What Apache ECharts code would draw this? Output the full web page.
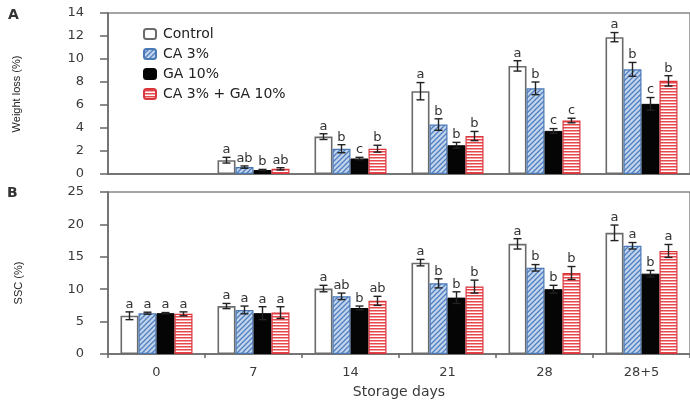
<!DOCTYPE html>
<html>
<head>
<meta charset="utf-8">
<script src="https://cdn.jsdelivr.net/npm/echarts@6/dist/echarts.min.js"></script>
<style>
html,body{margin:0;padding:0;background:#fff;}
#chart{width:690px;height:403px;}
</style>
</head>
<body>
<div id="chart"></div>
<script>
// ---- Data ----
const categories = ['0', '7', '14', '21', '28', '28+5'];
const seriesNames = ['Control', 'CA 3%', 'GA 10%', 'CA 3% + GA 10%'];

// Panel A: Weight loss (%)  (no bars drawn at day 0)
const wlControl = [null, 1.2, 3.25, 7.2, 9.4, 11.9];
const wlCA      = [null, 0.6, 2.2, 4.3, 7.45, 9.1];
const wlGA      = [null, 0.35, 1.35, 2.5, 3.75, 6.1];
const wlCAGA    = [null, 0.45, 2.2, 3.3, 4.65, 8.1];
const wlControlErr = [0, 0.25, 0.25, 0.75, 0.45, 0.4];
const wlCAErr      = [0, 0.1, 0.35, 0.5, 0.55, 0.6];
const wlGAErr      = [0, 0.05, 0.1, 0.25, 0.2, 0.55];
const wlCAGAErr    = [0, 0.1, 0.3, 0.4, 0.2, 0.45];
const wlControlSig = ['', 'a', 'a', 'a', 'a', 'a'];
const wlCASig      = ['', 'ab', 'b', 'b', 'b', 'b'];
const wlGASig      = ['', 'b', 'c', 'b', 'c', 'c'];
const wlCAGASig    = ['', 'ab', 'b', 'b', 'c', 'b'];

// Panel B: SSC (%)
const sscControl = [5.9, 7.4, 10.1, 14.1, 17.0, 18.7];
const sscCA      = [6.3, 6.8, 8.9, 10.9, 13.3, 16.7];
const sscGA      = [6.3, 6.3, 7.1, 8.7, 10.0, 12.4];
const sscCAGA    = [6.2, 6.4, 8.2, 10.4, 12.5, 15.9];
const sscControlErr = [0.6, 0.4, 0.5, 0.5, 0.8, 1.2];
const sscCAErr      = [0.15, 0.6, 0.5, 0.7, 0.5, 0.5];
const sscGAErr      = [0.1, 1.0, 0.3, 0.9, 0.6, 0.5];
const sscCAGAErr    = [0.3, 0.9, 0.7, 1.0, 1.0, 1.0];
const sscControlSig = ['a', 'a', 'a', 'a', 'a', 'a'];
const sscCASig      = ['a', 'a', 'ab', 'b', 'b', 'a'];
const sscGASig      = ['a', 'a', 'b', 'b', 'b', 'b'];
const sscCAGASig    = ['a', 'a', 'ab', 'b', 'b', 'a'];

// ---- Styles ----
const BAR_W = 18;
const FONT = 'DejaVu Sans';

function makeCanvas(w, h, draw) {
  const c = document.createElement('canvas');
  c.width = w; c.height = h;
  draw(c.getContext('2d'));
  return c;
}
const bluePattern = makeCanvas(5, 5, function (ctx) {
  ctx.fillStyle = '#c3d5ec';
  ctx.fillRect(0, 0, 5, 5);
  ctx.strokeStyle = '#4f7fc0';
  ctx.lineWidth = 1.3;
  ctx.beginPath();
  ctx.moveTo(-1, 6); ctx.lineTo(6, -1);
  ctx.moveTo(-6, 6); ctx.lineTo(1, -1);
  ctx.moveTo(4, 6); ctx.lineTo(11, -1);
  ctx.stroke();
});
const redPattern = makeCanvas(4, 3, function (ctx) {
  ctx.fillStyle = '#ffffff';
  ctx.fillRect(0, 0, 4, 3);
  ctx.fillStyle = '#e8474c';
  ctx.fillRect(0, 1, 4, 1.5);
});

const styles = [
  { color: '#ffffff', borderColor: '#6b6b6b', borderWidth: 1.6 },
  { color: { image: bluePattern, repeat: 'repeat' }, borderColor: '#4a78b5', borderWidth: 1.2 },
  { color: '#050505', borderColor: '#050505', borderWidth: 1 },
  { color: { image: redPattern, repeat: 'repeat' }, borderColor: '#d9363c', borderWidth: 1.2 }
];

const panels = [
  { means: [wlControl, wlCA, wlGA, wlCAGA],
    errs: [wlControlErr, wlCAErr, wlGAErr, wlCAGAErr],
    sigs: [wlControlSig, wlCASig, wlGASig, wlCAGASig] },
  { means: [sscControl, sscCA, sscGA, sscCAGA],
    errs: [sscControlErr, sscCAErr, sscGAErr, sscCAGAErr],
    sigs: [sscControlSig, sscCASig, sscGASig, sscCAGASig] }
];

const series = [];
panels.forEach(function (p, pi) {
  p.means.forEach(function (vals, g) {
    series.push({
      name: seriesNames[g],
      type: 'bar',
      xAxisIndex: pi, yAxisIndex: pi,
      data: vals,
      barWidth: BAR_W,
      barGap: '0%',
      itemStyle: styles[g],
      emphasis: { disabled: true },
      z: 2
    });
  });
  const ebData = [];
  const ebSig = [];
  p.means.forEach(function (vals, g) {
    vals.forEach(function (v, c) {
      if (v === null) return;
      ebData.push([c, v, p.errs[g][c], g]);
      ebSig.push(p.sigs[g][c]);
    });
  });
  series.push({
    name: 'errorbars' + pi,
    type: 'custom',
    xAxisIndex: pi, yAxisIndex: pi,
    data: ebData,
    z: 5,
    silent: true,
    renderItem: function (params, api) {
      const c = api.value(0), m = api.value(1), e = api.value(2), g = api.value(3);
      const sig = ebSig[params.dataIndex];
      if (!sig && !e) return null;
      const off = (g - 1.5) * BAR_W;
      const top = api.coord([c, m + e]);
      const bot = api.coord([c, m - e]);
      const x = top[0] + off;
      const cap = 4;
      const ls = { stroke: '#222', lineWidth: 1.4 };
      const children = [];
      if (e > 0) {
        children.push({ type: 'line', shape: { x1: x, y1: top[1], x2: x, y2: bot[1] }, style: ls });
        children.push({ type: 'line', shape: { x1: x - cap, y1: top[1], x2: x + cap, y2: top[1] }, style: ls });
        children.push({ type: 'line', shape: { x1: x - cap, y1: bot[1], x2: x + cap, y2: bot[1] }, style: ls });
      }
      if (sig) {
        children.push({ type: 'text', style: {
          text: sig, x: x, y: top[1] - 1,
          align: 'center', verticalAlign: 'bottom',
          fontSize: 13, fontFamily: FONT, fill: '#333'
        } });
      }
      return { type: 'group', children: children };
    }
  });
});

const axisLineStyle = { color: '#666', width: 1.5 };
const labelStyle = { color: '#3a3a3a', fontSize: 13, fontFamily: FONT };

const option = {
  animation: false,
  backgroundColor: '#ffffff',
  legend: {
    data: seriesNames,
    orient: 'vertical',
    left: 138, top: 22,
    itemWidth: 12, itemHeight: 10, itemGap: 6,
    selectedMode: false,
    textStyle: { fontSize: 14, fontFamily: FONT, color: '#222', padding: [0, 0, 0, 2] }
  },
  grid: [
    { left: 108, top: 13, width: 588, height: 161, show: true, borderColor: '#888', borderWidth: 1.5, backgroundColor: 'transparent' },
    { left: 108, top: 192, width: 588, height: 162, show: true, borderColor: '#888', borderWidth: 1.5, backgroundColor: 'transparent' }
  ],
  xAxis: [
    { type: 'category', gridIndex: 0, data: categories,
      axisLine: { lineStyle: axisLineStyle }, axisTick: { show: false }, axisLabel: { show: false } },
    { type: 'category', gridIndex: 1, data: categories,
      axisLine: { lineStyle: axisLineStyle },
      axisTick: { show: true, length: 4, lineStyle: { color: '#666', width: 1.5 } },
      axisLabel: Object.assign({ margin: 12 }, labelStyle),
      name: 'Storage days', nameLocation: 'middle', nameGap: 31,
      nameTextStyle: { fontSize: 14, fontFamily: FONT, color: '#3a3a3a' } }
  ],
  yAxis: [
    { type: 'value', gridIndex: 0, min: 0, max: 14, interval: 2,
      axisLine: { show: true, lineStyle: axisLineStyle },
      axisTick: { show: true, length: 8, lineStyle: { color: '#666', width: 1.5 } },
      axisLabel: Object.assign({ margin: 24 }, labelStyle),
      splitLine: { show: false } },
    { type: 'value', gridIndex: 1, min: 0, max: 25, interval: 5,
      axisLine: { show: true, lineStyle: axisLineStyle },
      axisTick: { show: true, length: 8, lineStyle: { color: '#666', width: 1.5 } },
      axisLabel: Object.assign({ margin: 24 }, labelStyle),
      splitLine: { show: false } }
  ],
  graphic: [
    { type: 'text', left: 8, top: 8, style: { text: 'A', fontSize: 14, fontWeight: 'bold', fontFamily: FONT, fill: '#333' } },
    { type: 'text', left: 7, top: 186, style: { text: 'B', fontSize: 14, fontWeight: 'bold', fontFamily: FONT, fill: '#333' } },
    { type: 'text', x: 17, y: 94, rotation: Math.PI / 2,
      style: { text: 'Weight loss (%)', fontSize: 11, fontFamily: 'Liberation Sans', fill: '#222', align: 'center', verticalAlign: 'middle' } },
    { type: 'text', x: 19, y: 283, rotation: Math.PI / 2,
      style: { text: 'SSC (%)', fontSize: 11, fontFamily: 'Liberation Sans', fill: '#222', align: 'center', verticalAlign: 'middle' } }
  ],
  series: series
};

const chart = echarts.init(document.getElementById('chart'), null, { renderer: 'canvas' });
chart.setOption(option);
</script>
</body>
</html>
